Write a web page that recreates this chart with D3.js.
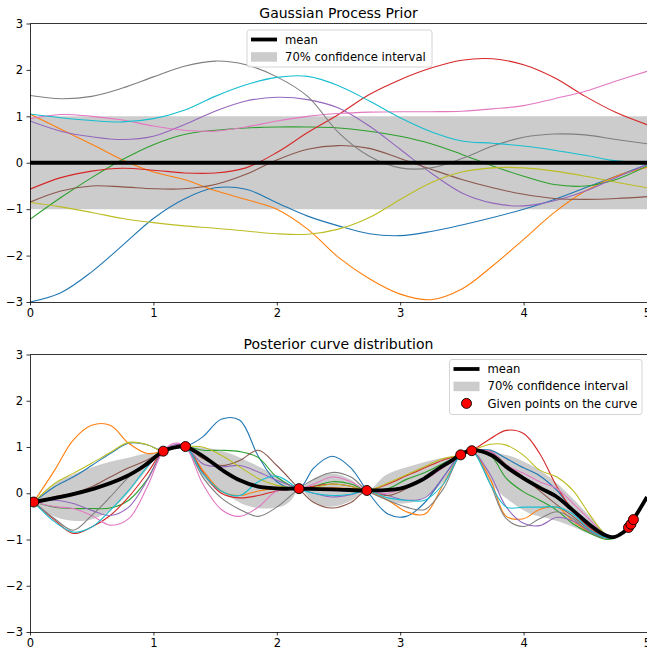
<!DOCTYPE html>
<html>
<head>
<meta charset="utf-8">
<script src="https://cdn.jsdelivr.net/npm/d3@7"></script>
<style>
  body { margin: 0; background: #fff; }
  svg { display: block; font-family: "DejaVu Sans", sans-serif; }
  .tick text { font-size: 11.5px; fill: #000; }
  .tick line, .domain { stroke: #000; stroke-width: 0.8; }
</style>
</head>
<body>
<div id="chart"></div>
<script>
// ---- prior samples (top panel) at x = 0, 0.25, ..., 5
var priorX = [0, 0.25, 0.5, 0.75, 1, 1.25, 1.5, 1.75, 2, 2.25, 2.5, 2.75, 3, 3.25, 3.5, 3.75, 4, 4.25, 4.5, 4.75, 5];
var priorBlue   = [-3, -2.8, -2.35, -1.78, -1.2, -0.78, -0.54, -0.57, -0.86, -1.15, -1.36, -1.53, -1.57, -1.48, -1.34, -1.18, -1.0, -0.79, -0.54, -0.29, -0.04];
var priorOrange = [1.05, 0.72, 0.4, 0.06, -0.2, -0.36, -0.6, -0.79, -1.0, -1.43, -2.04, -2.5, -2.83, -2.95, -2.72, -2.22, -1.65, -1.07, -0.61, -0.29, -0.1];
var priorGreen  = [-1.22, -0.75, -0.32, 0.07, 0.39, 0.61, 0.7, 0.75, 0.77, 0.77, 0.75, 0.68, 0.57, 0.41, 0.18, -0.07, -0.29, -0.47, -0.5, -0.36, -0.07];
var priorRed    = [-0.57, -0.32, -0.18, -0.12, -0.16, -0.22, -0.22, -0.11, 0.22, 0.65, 1.04, 1.47, 1.79, 2.04, 2.21, 2.24, 2.11, 1.83, 1.43, 1.08, 0.82];
var priorPurple = [0.9, 0.68, 0.56, 0.5, 0.57, 0.82, 1.11, 1.33, 1.41, 1.36, 1.18, 0.79, 0.29, -0.22, -0.65, -0.87, -0.93, -0.82, -0.61, -0.32, -0.04];
var priorBrown  = [-0.85, -0.61, -0.5, -0.52, -0.56, -0.56, -0.47, -0.25, 0.06, 0.29, 0.37, 0.31, 0.09, -0.14, -0.36, -0.54, -0.68, -0.77, -0.79, -0.77, -0.73];
var priorPink   = [0.95, 1.04, 1.0, 0.92, 0.79, 0.7, 0.68, 0.77, 0.9, 1.0, 1.06, 1.09, 1.1, 1.1, 1.11, 1.16, 1.23, 1.38, 1.54, 1.76, 1.97];
var priorGrey   = [1.45, 1.38, 1.43, 1.61, 1.85, 2.08, 2.19, 2.11, 1.85, 1.43, 0.65, 0.14, -0.11, -0.11, 0.09, 0.36, 0.55, 0.62, 0.6, 0.5, 0.41];
var priorOlive  = [-0.85, -0.95, -1.07, -1.2, -1.29, -1.36, -1.41, -1.47, -1.53, -1.54, -1.43, -1.18, -0.79, -0.43, -0.2, -0.11, -0.11, -0.18, -0.29, -0.42, -0.54];
var priorCyan   = [1.05, 0.97, 0.91, 0.88, 0.95, 1.13, 1.43, 1.68, 1.84, 1.86, 1.66, 1.33, 0.97, 0.67, 0.47, 0.42, 0.36, 0.27, 0.16, 0.04, 0.0];
var priorMean = [0, 0];
var priorBandX = [0, 5], priorLow = [-1, -1], priorHigh = [1, 1];

// ---- posterior samples (bottom panel)
var postX = [0.03, 0.2, 0.35, 0.5, 0.65, 0.8, 0.95, 1.08, 1.17, 1.26, 1.4, 1.55, 1.7, 1.85, 2.0, 2.18, 2.3, 2.45, 2.6, 2.73,
             2.9, 3.05, 3.2, 3.35, 3.49, 3.58, 3.73, 3.86, 4.0, 4.13, 4.27, 4.4, 4.54, 4.67, 4.74];
var postBlue   = [-0.19, 0.14, 0.35, 0.6, 0.86, 1.08, 1.05, 0.91, 0.97, 1.01, 1.22, 1.6, 1.58, 0.8, 0.25, 0.1, 0.55, 0.8, 0.55, 0.06,
                  -0.45, -0.5, -0.2, 0.35, 0.83, 0.92, 0.93, 0.75, 0.55, 0.38, 0.06, -0.37, -0.73, -0.93, -0.96];
var postOrange = [-0.19, 0.5, 1.15, 1.47, 1.47, 1.08, 0.86, 0.91, 0.98, 1.01, 0.5, 0.05, -0.05, 0.05, 0.1, 0.1, 0.1, 0.12, 0.1, 0.06,
                  -0.15, -0.4, -0.45, 0.2, 0.83, 0.92, 0.3, -0.5, -0.55, -0.35, -0.3, -0.6, -0.85, -0.97, -0.96];
var postGreen  = [-0.19, -0.3, -0.33, -0.33, -0.32, -0.15, 0.3, 0.91, 0.98, 1.01, 0.93, 0.93, 0.9, 0.77, 0.35, 0.1, 0.15, 0.25, 0.2, 0.06,
                  0.1, 0.3, 0.45, 0.65, 0.83, 0.92, 0.82, 0.32, 0.03, -0.15, -0.37, -0.66, -0.87, -1.0, -0.97];
var postRed    = [-0.19, -0.58, -0.87, -0.73, -0.48, -0.08, 0.43, 0.91, 0.98, 1.01, 0.45, 0.0, -0.1, -0.05, 0.05, 0.1, 0.15, 0.2, 0.15, 0.06,
                  0.2, 0.38, 0.55, 0.72, 0.83, 0.92, 1.18, 1.36, 1.29, 0.86, 0.14, -0.37, -0.76, -0.95, -0.96];
var postPurple = [-0.19, -0.15, -0.22, -0.37, -0.48, -0.3, 0.28, 0.91, 1.05, 1.01, 0.64, 0.57, 0.6, 0.46, 0.28, 0.1, 0.0, -0.08, -0.03, 0.06,
                  -0.05, -0.15, -0.1, 0.35, 0.83, 0.92, 0.4, -0.3, -0.65, -0.7, -0.52, -0.6, -0.82, -0.96, -0.96];
var postBrown  = [-0.19, -0.07, 0.0, 0.14, 0.35, 0.55, 0.72, 0.91, 1.0, 1.01, 0.75, 0.6, 0.71, 0.93, 0.6, 0.1, -0.2, -0.32, -0.2, 0.06,
                  -0.05, 0.1, 0.35, 0.6, 0.83, 0.92, 0.9, 0.62, 0.35, 0.05, -0.25, -0.5, -0.8, -0.95, -0.96];
var postPink   = [-0.19, -0.29, -0.33, -0.48, -0.69, -0.55, 0.14, 0.91, 1.08, 1.01, 0.2, -0.35, -0.5, -0.3, 0.05, 0.1, 0.2, 0.35, 0.25, 0.06,
                  0.0, 0.15, 0.3, 0.55, 0.83, 0.92, 0.9, 0.61, 0.43, 0.25, 0.1, -0.22, -0.58, -0.93, -0.96];
var postGrey   = [-0.19, -0.55, -0.8, -0.48, -0.08, 0.35, 0.68, 0.91, 0.98, 1.01, 0.35, -0.1, -0.35, -0.5, -0.3, 0.1, 0.3, 0.45, 0.35, 0.06,
                  -0.15, -0.3, -0.35, 0.1, 0.83, 0.92, 0.2, -0.55, -0.72, -0.55, -0.4, -0.55, -0.85, -0.97, -0.96];
var postOlive  = [-0.19, 0.21, 0.43, 0.65, 0.88, 1.1, 1.05, 0.91, 0.98, 1.01, 1.0, 0.82, 0.57, 0.32, 0.17, 0.1, 0.12, 0.2, 0.15, 0.06,
                  0.22, 0.4, 0.58, 0.75, 0.83, 0.92, 1.06, 1.04, 0.82, 0.5, 0.35, 0.06, -0.48, -0.91, -0.96];
var postCyan   = [-0.19, -0.62, -0.84, -0.73, -0.37, 0.06, 0.57, 0.91, 0.98, 1.01, 0.43, 0.05, -0.05, 0.25, 0.37, 0.1, 0.0, -0.05, -0.02, 0.06,
                  -0.1, -0.15, -0.15, 0.2, 0.83, 0.92, 0.2, -0.3, -0.3, -0.3, -0.3, -0.45, -0.8, -0.96, -0.96];

var meanX = [0.03, 0.25, 0.52, 0.77, 0.93, 1.08, 1.17, 1.26, 1.43, 1.57, 1.7, 1.84, 2.03, 2.18, 2.5, 2.73, 3.0, 3.17, 3.31, 3.42,
             3.49, 3.58, 3.74, 3.86, 4.0, 4.13, 4.27, 4.4, 4.54, 4.65, 4.73, 4.81, 4.85, 4.89, 5.0];
var meanY = [-0.19, -0.08, 0.1, 0.35, 0.6, 0.91, 0.99, 1.01, 0.75, 0.48, 0.28, 0.15, 0.1, 0.1, 0.08, 0.06, 0.1, 0.28, 0.53, 0.71,
             0.84, 0.93, 0.82, 0.57, 0.32, 0.12, -0.08, -0.37, -0.69, -0.89, -0.95, -0.84, -0.74, -0.57, -0.08];

var bandX    = [0.03, 0.15, 0.25, 0.4, 0.52, 0.65, 0.77, 0.9, 1.08, 1.17, 1.26, 1.35, 1.48, 1.62, 1.75, 1.89, 2.03, 2.13, 2.18,
                2.3, 2.43, 2.61, 2.73, 2.88, 3.01, 3.15, 3.28, 3.42, 3.49, 3.58, 3.73, 3.81, 3.9, 4.05, 4.21, 4.37, 4.53, 4.67, 4.74];
var bandLow  = [-0.19, -0.44, -0.55, -0.6, -0.55, -0.37, -0.08, 0.35, 0.91, 0.97, 1.01, 0.57, 0.14, -0.08, -0.26, -0.33, -0.29, -0.1, 0.1,
                -0.19, -0.29, -0.15, 0.06, -0.15, -0.22, -0.15, 0.06, 0.5, 0.83, 0.92, 0.25, 0.0, -0.19, -0.44, -0.55, -0.69, -0.87, -0.98, -0.96];
var bandHigh = [-0.19, 0.1, 0.28, 0.46, 0.58, 0.68, 0.75, 0.84, 0.91, 1.03, 1.01, 1.0, 0.96, 0.86, 0.71, 0.53, 0.32, 0.16, 0.1,
                0.32, 0.43, 0.28, 0.06, 0.39, 0.53, 0.64, 0.73, 0.8, 0.83, 0.92, 0.95, 0.86, 0.8, 0.62, 0.35, -0.04, -0.48, -0.87, -0.96];

var givenX = [0.03, 1.08, 1.26, 2.18, 2.73, 3.49, 3.58, 4.85, 4.87, 4.89];
var givenY = [-0.19, 0.91, 1.01, 0.1, 0.06, 0.83, 0.92, -0.74, -0.67, -0.57];

var colors = ["#1f77b4", "#ff7f0e", "#2ca02c", "#d62728", "#9467bd", "#8c564b", "#e377c2", "#7f7f7f", "#bcbd22", "#17becf"];
var priorSamples = [priorBlue, priorOrange, priorGreen, priorRed, priorPurple, priorBrown, priorPink, priorGrey, priorOlive, priorCyan];
var postSamples = [postBlue, postOrange, postGreen, postRed, postPurple, postBrown, postPink, postGrey, postOlive, postCyan];
var yTicks = [-3, -2, -1, 0, 1, 2, 3];
var xTicks = [0, 1, 2, 3, 4, 5];

var width = 647, height = 654;
var svg = d3.select("#chart").append("svg").attr("width", width).attr("height", height);

function zip(xs, ys) { return xs.map(function (x, i) { return [x, ys[i]]; }); }
function fmt(d) { return d < 0 ? "\u2212" + Math.abs(d) : String(d); }

/* draws one panel: axes, band, samples, mean and optional points */
function panel(opts) {
    var x = d3.scaleLinear().domain([0, 5]).range([30, 647]);
    var y = d3.scaleLinear().domain([-3, 3]).range([opts.bottom, opts.top]);
    var g = svg.append("g");

    var clipId = "clip" + opts.id;
    g.append("clipPath").attr("id", clipId)
        .append("rect").attr("x", 30).attr("y", opts.top).attr("width", 617).attr("height", opts.bottom - opts.top);
    var plot = g.append("g").attr("clip-path", "url(#" + clipId + ")");

    var line = d3.line().x(function (d) { return x(d[0]); }).y(function (d) { return y(d[1]); })
        .curve(d3.curveCatmullRom.alpha(0.5));
    var area = d3.area().x(function (d) { return x(d[0]); })
        .y0(function (d) { return y(d[1]); }).y1(function (d) { return y(d[2]); })
        .curve(opts.bandCurve);

    plot.append("path")
        .datum(opts.bandX.map(function (v, i) { return [v, opts.low[i], opts.high[i]]; }))
        .attr("d", area).attr("fill", "#cccccc");

    opts.samples.forEach(function (s, i) {
        plot.append("path").datum(zip(opts.sampleX, s)).attr("d", line)
            .attr("fill", "none").attr("stroke", colors[i]).attr("stroke-width", 1.1);
    });

    plot.append("path").datum(zip(opts.meanX, opts.meanY)).attr("d", line)
        .attr("fill", "none").attr("stroke", "#000").attr("stroke-width", 3.8);

    if (opts.pointsX) {
        plot.selectAll("circle").data(zip(opts.pointsX, opts.pointsY)).enter().append("circle")
            .attr("cx", function (d) { return x(d[0]); }).attr("cy", function (d) { return y(d[1]); })
            .attr("r", 5).attr("fill", "red").attr("stroke", "#000").attr("stroke-width", 0.9);
    }

    // spines and ticks
    g.append("line").attr("x1", 30).attr("x2", 647).attr("y1", opts.top).attr("y2", opts.top)
        .attr("stroke", "#000").attr("stroke-width", 0.8);
    g.append("g").attr("transform", "translate(30,0)")
        .call(d3.axisLeft(y).tickValues(yTicks).tickSize(3.5).tickSizeOuter(0).tickPadding(3.5).tickFormat(fmt))
        .call(function (a) { a.attr("font-family", null).attr("font-size", null); });
    g.append("g").attr("transform", "translate(0," + opts.bottom + ")")
        .call(d3.axisBottom(x).tickValues(xTicks).tickSize(3.5).tickSizeOuter(0).tickPadding(3.5).tickFormat(fmt))
        .call(function (a) { a.attr("font-family", null).attr("font-size", null); });

    g.append("text").attr("x", 338.5).attr("y", opts.top - 6).attr("text-anchor", "middle")
        .attr("font-size", "14px").text(opts.title);

    // legend
    var lg = svg.append("g").attr("transform", "translate(" + opts.legX + "," + opts.legY + ")");
    lg.append("rect").attr("width", opts.legW).attr("height", opts.legH).attr("rx", 2.5)
        .attr("fill", "#fff").attr("fill-opacity", 0.8).attr("stroke", "#d0d0d0").attr("stroke-width", 0.9);
    var rowH = 17.2;
    opts.legend.forEach(function (item, i) {
        var cy = 9.5 + i * rowH;
        if (item.kind == "line") {
            lg.append("line").attr("x1", 4).attr("x2", 30).attr("y1", cy).attr("y2", cy)
                .attr("stroke", "#000").attr("stroke-width", 3.8);
        } else if (item.kind == "patch") {
            lg.append("rect").attr("x", 4).attr("y", cy - 4.5).attr("width", 26).attr("height", 9.5).attr("fill", "#cccccc");
        } else {
            lg.append("circle").attr("cx", 17).attr("cy", cy).attr("r", 5)
                .attr("fill", "red").attr("stroke", "#000").attr("stroke-width", 0.9);
        }
        lg.append("text").attr("x", 38).attr("y", cy + 4.2).attr("font-size", "11.6px").text(item.label);
    });
}

panel({
    id: 1, top: 23.5, bottom: 302, title: "Gaussian Process Prior",
    bandX: priorBandX, low: priorLow, high: priorHigh, bandCurve: d3.curveLinear,
    sampleX: priorX, samples: priorSamples,
    meanX: priorBandX, meanY: priorMean,
    legX: 247, legY: 30, legW: 185, legH: 37,
    legend: [{ kind: "line", label: "mean" }, { kind: "patch", label: "70% confidence interval" }]
});

panel({
    id: 2, top: 354.5, bottom: 632, title: "Posterior curve distribution",
    bandX: bandX, low: bandLow, high: bandHigh, bandCurve: d3.curveMonotoneX,
    sampleX: postX, samples: postSamples,
    meanX: meanX, meanY: meanY,
    pointsX: givenX, pointsY: givenY,
    legX: 449.5, legY: 359.5, legW: 192.5, legH: 55,
    legend: [{ kind: "line", label: "mean" }, { kind: "patch", label: "70% confidence interval" },
             { kind: "point", label: "Given points on the curve" }]
});
</script>
</body>
</html>
